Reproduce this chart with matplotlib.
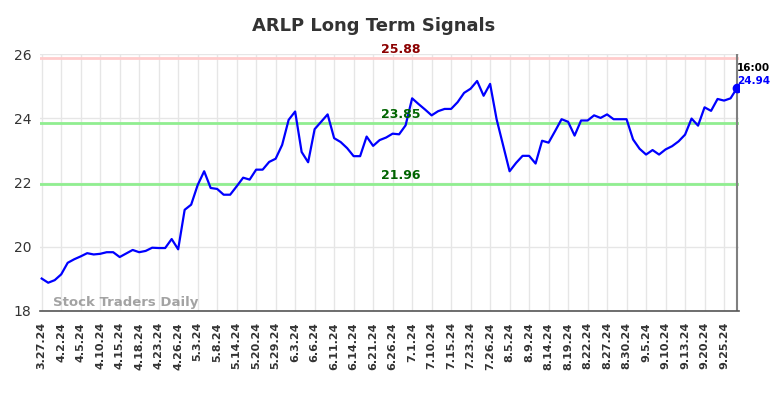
import matplotlib
matplotlib.use("Agg")
import matplotlib.pyplot as plt

tick_labels = ["3.27.24", "4.2.24", "4.5.24", "4.10.24", "4.15.24", "4.18.24", "4.23.24",
               "4.26.24", "5.3.24", "5.8.24", "5.14.24", "5.20.24", "5.29.24", "6.3.24",
               "6.6.24", "6.11.24", "6.14.24", "6.21.24", "6.26.24", "7.1.24", "7.10.24",
               "7.15.24", "7.23.24", "7.26.24", "8.5.24", "8.9.24", "8.14.24", "8.19.24",
               "8.22.24", "8.27.24", "8.30.24", "9.5.24", "9.10.24", "9.13.24", "9.20.24",
               "9.25.24"]

prices = [19.01, 18.88, 18.96, 19.14, 19.50, 19.61, 19.70, 19.80, 19.76, 19.78,
          19.83, 19.83, 19.68, 19.79, 19.90, 19.83, 19.87, 19.97, 19.96, 19.96,
          20.24, 19.92, 21.15, 21.31, 21.92, 22.35, 21.83, 21.80, 21.62, 21.62,
          21.88, 22.15, 22.09, 22.40, 22.40, 22.64, 22.74, 23.17, 23.95, 24.21,
          22.95, 22.63, 23.66, 23.89, 24.12, 23.38, 23.26, 23.07, 22.82, 22.82,
          23.43, 23.14, 23.32, 23.40, 23.52, 23.50, 23.78, 24.62, 24.44, 24.27,
          24.09, 24.22, 24.29, 24.29, 24.50, 24.79, 24.92, 25.16, 24.70, 25.07,
          23.97, 23.16, 22.35, 22.61, 22.83, 22.83, 22.59, 23.30, 23.24, 23.60,
          23.97, 23.89, 23.46, 23.93, 23.93, 24.09, 24.01, 24.12, 23.97, 23.97,
          23.97, 23.34, 23.05, 22.87, 23.01, 22.87, 23.03, 23.13, 23.28, 23.49,
          23.99, 23.77, 24.34, 24.23, 24.60, 24.55, 24.62, 24.94]

resistance = 25.88
upper_support = 23.85
lower_support = 21.96
last_time = "16:00"
last_price = 24.94
title = "ARLP Long Term Signals"
watermark = "Stock Traders Daily"
y_ticks = [18, 20, 22, 24, 26]

x = list(range(len(prices)))
tick_pos = list(range(0, 3 * len(tick_labels), 3))

fig = plt.figure(figsize=(7.84, 3.98), dpi=100)
ax = fig.add_axes([40 / 784, 1 - 311 / 398, 699 / 784, 257 / 398])

ax.set_xlim(-0.26, 107.3)
ax.set_ylim(18, 26)

ax.grid(True, color="#e6e6e6", linewidth=1.0)
ax.set_axisbelow(True)

ax.axhline(resistance, color="#ffcccc", linewidth=2, zorder=2)
ax.axhline(upper_support, color="#90ee90", linewidth=2, zorder=2)
ax.axhline(lower_support, color="#90ee90", linewidth=2, zorder=2)

ax.plot(x, prices, color="#0000ff", linewidth=1.6, zorder=3)
ax.axvline(x[-1], color="#808080", linewidth=1.5, zorder=2)
ax.plot([x[-1]], [last_price], "o", color="#0000ff", markersize=6, zorder=4)

mid = 55.2
ax.text(mid, resistance + 0.07, f"{resistance:.2f}", color="#8b0000", fontsize=9,
        fontweight="bold", ha="center", va="bottom")
ax.text(mid, upper_support + 0.07, f"{upper_support:.2f}", color="#006400", fontsize=9,
        fontweight="bold", ha="center", va="bottom")
ax.text(mid, lower_support + 0.07, f"{lower_support:.2f}", color="#006400", fontsize=9,
        fontweight="bold", ha="center", va="bottom")

ax.text(x[-1], 25.55, last_time, color="black", fontsize=7.5, fontweight="bold",
        ha="left", va="center")
ax.text(x[-1], 25.15, f"{last_price:.2f}", color="#0000ff", fontsize=7.5, fontweight="bold",
        ha="left", va="center")

ax.text(1.8, 18.25, watermark, color="#999999", fontsize=9.5, fontweight="bold",
        ha="left", va="center", alpha=0.9)

ax.set_xticks(tick_pos)
ax.set_xticklabels(tick_labels, rotation=90, fontsize=8, fontweight="bold", color="#333333")
ax.set_yticks(y_ticks)
ax.set_yticklabels([str(v) for v in y_ticks], fontsize=10, color="#333333")
ax.tick_params(axis="both", length=0, pad=6)
ax.tick_params(axis="x", pad=8)

for s in ["top", "right", "left"]:
    ax.spines[s].set_visible(False)
ax.spines["bottom"].set_color("#555555")
ax.spines["bottom"].set_linewidth(1.2)

fig.text(374 / 784, 1 - 26 / 398, title, fontsize=13, fontweight="bold", color="#333333",
         ha="center", va="center")

fig.savefig("out.png", dpi=100)
